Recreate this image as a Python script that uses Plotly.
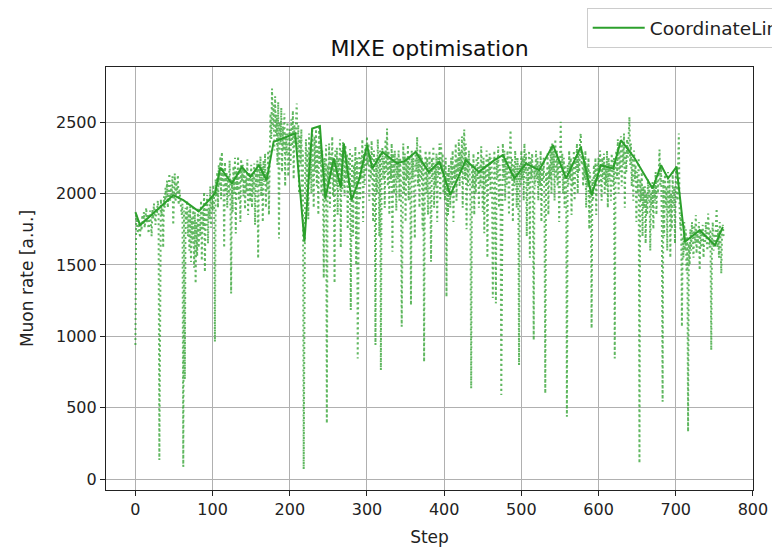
import plotly.graph_objects as go

# Every evaluated point of the line search (one value per step)
muon_rate_all = [
    940, 1850, 1790, 1720, 1810, 1760, 1690, 1800, 1740, 1850, 1780, 1870, 1760, 1820, 1900, 1790, 1860, 1720, 1840, 1880,
    1800, 1700, 1890, 1820, 1930, 1850, 1780, 1900, 1860, 1950, 1880, 135, 1890, 1960, 1840, 1920, 1620, 1980, 1900, 2040,
    1960, 2090, 1900, 2010, 2140, 1950, 2060, 1990, 2120, 1780, 2030, 2140, 1940, 2080, 2000, 2130, 1920, 2030, 1970, 1880,
    1850, 1930, 88, 1880, 700, 1900, 1810, 1950, 1700, 1880, 1600, 1910, 1520, 1830, 1650, 1900, 1480, 1870, 1370, 1800,
    1560, 1900, 1620, 1850, 1700, 1950, 1530, 1880, 1750, 2010, 1450, 1920, 1780, 1990, 1650, 1900, 1820, 2050, 1760, 1980,
    1880, 2060, 1950, 962, 2100, 1980, 2150, 1900, 2200, 2050, 2260, 1960, 2290, 2080, 2180, 1620, 2220, 2010, 2150, 1900,
    2120, 1980, 2230, 2040, 1300, 2100, 1870, 2190, 2000, 2250, 1720, 2160, 2020, 2260, 1950, 2180, 1800, 2240, 2090, 2200,
    1980, 2170, 1890, 2120, 2010, 2240, 1850, 2150, 2050, 1940, 2200, 1900, 2130, 2000, 2210, 1780, 2160, 2060, 2230, 1545,
    2180, 2050, 2260, 1980, 2190, 1800, 2230, 2080, 2280, 1900, 2150, 2020, 2300, 1850, 2250, 2560, 2380, 2734, 2450, 2620,
    2300, 2680, 2400, 2550, 2200, 2640, 1685, 2500, 2350, 2600, 2150, 2470, 2300, 2560, 2050, 2420, 2280, 2500, 2120, 2380,
    2450, 2200, 2520, 2330, 2580, 2100, 2480, 2350, 2550, 2630, 2280, 2480, 2000, 2400, 2200, 2450, 1950, 2300, 70, 1662,
    2150, 2380, 1950, 2300, 1820, 2420, 2100, 2350, 2000, 2460, 2250, 1900, 2400, 2150, 2450, 2050, 2330, 1850, 2480, 2200,
    2380, 2000, 2300, 2100, 1408, 2250, 1960, 2340, 391, 2200, 2050, 2350, 1900, 2280, 2100, 2400, 1980, 2250, 1373, 2300,
    2050, 2320, 1850, 2250, 2100, 2380, 1620, 2300, 2030, 2360, 2200, 1980, 2340, 2100, 2280, 1750, 2250, 2050, 2310, 1184,
    2000, 2280, 1700, 2200, 2050, 2330, 1500, 2250, 846, 2150, 2300, 1950, 2250, 2100, 2380, 1800, 2280, 2060, 2340, 2150,
    2400, 2200, 2350, 1950, 2280, 2100, 2370, 2150, 1800, 2300, 2050, 939, 2250, 2000, 2380, 2150, 1700, 2300, 764, 2200,
    2320, 2100, 2250, 1900, 2380, 2150, 2455, 2050, 2300, 1850, 2250, 2100, 2350, 1592, 2280, 2000, 2300, 2150, 1880, 2250,
    2100, 2300, 1950, 2250, 2080, 1068, 2200, 2350, 2000, 2280, 1800, 2250, 2100, 2340, 1950, 2260, 2150, 1219, 2300, 2100,
    2250, 2000, 1685, 2300, 2150, 2396, 2050, 2280, 1900, 2330, 2100, 2250, 1750, 2200, 822, 2150, 2300, 2000, 2250, 1850,
    2150, 2300, 2050, 1522, 2250, 2100, 2330, 1900, 2200, 2050, 2280, 1800, 2250, 2120, 2350, 1950, 2350, 2150, 2280, 2000,
    2200, 1950, 2250, 1277, 2150, 1850, 2200, 2000, 1900, 2250, 2050, 2300, 1800, 2200, 2100, 2350, 1950, 2250, 2150, 2380,
    2050, 2300, 2150, 2400, 1900, 2300, 2448, 2100, 2350, 1750, 2250, 2050, 2300, 2150, 1950, 636, 2200, 2050, 2280, 1850,
    2200, 2000, 2250, 2100, 2300, 1900, 2200, 2050, 2330, 2150, 1871, 2250, 1722, 2200, 2050, 2300, 1550, 2250, 2100, 2280,
    2000, 2250, 2100, 1268, 2200, 2300, 2050, 1231, 2250, 2100, 2330, 1900, 2200, 2050, 590, 2250, 2350, 2100, 2300, 1950,
    2250, 2050, 2300, 2150, 1850, 2280, 2443, 2100, 2250, 1800, 2200, 2050, 2300, 2150, 1900, 2250, 2100, 799, 2200, 2050,
    2300, 2100, 2250, 1950, 2350, 2150, 2280, 1700, 2200, 2050, 2300, 1550, 2250, 2100, 2280, 2000, 974, 2200, 2050, 2300,
    2100, 2250, 1950, 2200, 2050, 2300, 1800, 2200, 2100, 2250, 1900, 601, 2150, 2050, 2280, 1850, 2200, 2100, 2330, 2000,
    2350, 2150, 2300, 1950, 2380, 2100, 2300, 2050, 2250, 1800, 2300, 2501, 2150, 2280, 2000, 2250, 1900, 2200, 2100, 438,
    2200, 2050, 2300, 2100, 2250, 1850, 2200, 2050, 2300, 1950, 2250, 2150, 2350, 2000, 2300, 2150, 2380, 2420, 2200, 2300,
    2050, 2250, 2100, 2300, 1900, 2200, 2050, 2250, 1750, 2150, 2000, 1056, 2100, 1950, 2200, 2050, 2250, 1850, 2200, 2100,
    2250, 2050, 2300, 2150, 1950, 2250, 2100, 2280, 2000, 2200, 2050, 2300, 1900, 2250, 2100, 2200, 1950, 2280, 2150, 2050,
    2250, 846, 2200, 2300, 2100, 2380, 2000, 2300, 2150, 2400, 2050, 2350, 2200, 2420, 1900, 2300, 2150, 2380, 2250, 2450,
    2536, 2200, 2350, 2050, 2250, 1950, 2300, 2100, 2200, 1800, 2150, 2000, 2250, 112, 2100, 1950, 2150, 1700, 2050, 1900,
    2050, 1650, 2000, 1850, 2100, 1950, 2050, 1600, 2000, 1900, 2080, 1750, 2050, 1950, 2150, 1850, 2100, 2000, 2200, 2307,
    2050, 2200, 1800, 543, 2100, 1700, 2150, 1900, 2050, 1600, 2150, 1850, 2100, 1550, 2000, 1750, 2150, 1900, 2050, 1650,
    2100, 2200, 1950, 2150, 2420, 1900, 1750, 1850, 1068, 1700, 1550, 1800, 1600, 1750, 1450, 1700, 333, 1650, 1500, 1750,
    1600, 1800, 1680, 1550, 1780, 1650, 1850, 1580, 1720, 1650, 1800, 1464, 1750, 1620, 1700, 1780, 1550, 1720, 1650, 1800,
    1680, 1600, 1860, 1700, 1620, 1750, 904, 1680, 1800, 1600, 1720, 1650, 1780, 1895, 1620, 1750, 1550, 1800, 1680, 1440,
    1720, 1780, 1700,
]
steps_all = list(range(len(muon_rate_all)))

# Accepted point at the end of each iteration
steps_best = [0, 6, 25, 49, 62, 82, 103, 110, 125, 138, 149, 160, 170, 179, 207, 219, 229, 239, 246, 257,
              266, 270, 280, 290, 300, 307, 320, 339, 350, 363, 380, 394, 408, 428, 445, 465, 476, 491, 506, 523,
              541, 558, 577, 591, 603, 619, 629, 647, 670, 681, 690, 701, 712, 731, 751, 761]
muon_rate_best = [1870, 1778, 1870, 1988, 1953, 1875, 2000, 2180, 2070, 2186, 2116, 2198, 2093, 2361, 2420, 1662, 2455, 2471, 1965, 2245,
                  2040, 2350, 1953, 2100, 2338, 2175, 2291, 2210, 2230, 2291, 2151, 2221, 1988, 2233, 2151, 2233, 2268, 2105, 2210, 2163,
                  2338, 2105, 2326, 1988, 2198, 2175, 2373, 2245, 2035, 2198, 2105, 2186, 1662, 1743, 1638, 1766]

x_ticks = [0, 100, 200, 300, 400, 500, 600, 700, 800]
y_ticks = [0, 500, 1000, 1500, 2000, 2500]

GREEN = "#2ca02c"
FONT = "DejaVu Sans"

fig = go.Figure()
fig.add_trace(go.Scatter(
    x=steps_all, y=muon_rate_all, mode="lines",
    line=dict(color=GREEN, width=2, dash="2px,3px"),
    opacity=0.75, showlegend=False, hoverinfo="skip",
))
fig.add_trace(go.Scatter(
    x=steps_best, y=muon_rate_best, mode="lines",
    line=dict(color=GREEN, width=2),
    name="CoordinateLineSearch",
))

axis_common = dict(
    showgrid=True, gridcolor="#b0b0b0", gridwidth=1,
    showline=True, linecolor="#222222", linewidth=1.2, mirror=True,
    ticks="outside", ticklen=5, tickcolor="#222222", tickwidth=1,
    zeroline=False,
    tickfont=dict(family=FONT, size=16, color="#222222"),
    title_font=dict(family=FONT, size=17, color="#222222"),
)

fig.update_layout(
    width=772, height=547,
    margin=dict(l=106, r=19, t=67, b=57, autoexpand=False),
    paper_bgcolor="white", plot_bgcolor="white",
    title=dict(text="MIXE optimisation", x=0.5, xref="paper", xanchor="center",
               y=1 - 48 / 547, yref="container", yanchor="middle",
               font=dict(family=FONT, size=22, color="#111111")),
    xaxis=dict(axis_common, range=[-38.1, 800.1], tickvals=x_ticks,
               title=dict(text="Step", standoff=12)),
    yaxis=dict(axis_common, range=[-75, 2885], tickvals=y_ticks,
               title=dict(text="Muon rate [a.u.]", standoff=18)),
    legend=dict(x=0.743, xanchor="left", y=1.139, yanchor="top",
                bgcolor="rgba(255,255,255,0.8)", bordercolor="#cccccc", borderwidth=1,
                itemwidth=52,
                font=dict(family=FONT, size=18.5, color="#222222")),
    showlegend=True,
)

fig.write_html("out.html")
